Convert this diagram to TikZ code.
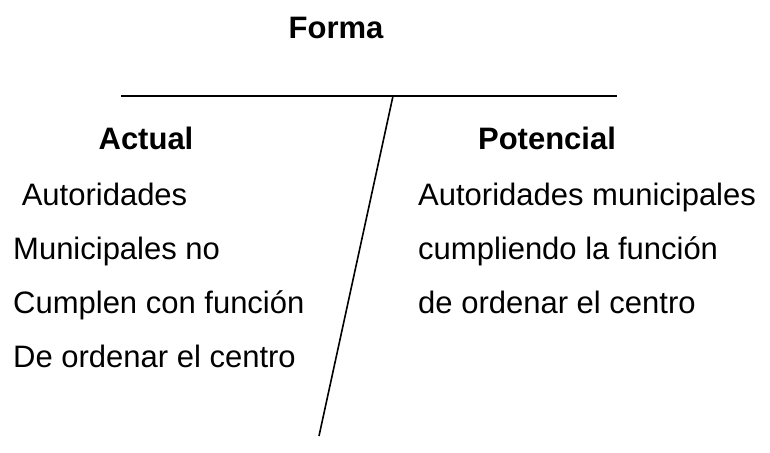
\documentclass[tikz,border=0pt]{standalone}
\usepackage{fontspec}
\setmainfont{Liberation Sans}
\begin{document}
\begin{tikzpicture}[x=1pt,y=-1pt,
  txt/.style={anchor=base west,inner sep=0pt,font=\fontsize{31}{37}\selectfont},
  head/.style={anchor=base,inner sep=0pt,font=\fontsize{31}{37}\selectfont\bfseries},
  rule/.style={line width=1.6pt}]
\useasboundingbox (0,0) rectangle (770,452);
\node[head] (forma) at (336,38) {Forma};
\coordinate (hl) at (121,96);
\coordinate (hr) at (617,96);
\coordinate (st) at (393,96);
\coordinate (sb) at (319,436);
\draw[rule] (hl) -- (hr);
\draw[rule] (st) -- (sb);
\node[head] (actual) at (146,149) {Actual};
\node[head] (pot) at (547,149) {Potencial};
\node[txt] (l1) at (13,205) {\ Autoridades};
\node[txt] (l2) at (13,259) {Municipales no};
\node[txt] (l3) at (13,313) {Cumplen con función};
\node[txt] (l4) at (13,367) {De ordenar el centro};
\node[txt] (r1) at (418,205) {Autoridades municipales};
\node[txt] (r2) at (418,259) {cumpliendo la función};
\node[txt] (r3) at (418,313) {de ordenar el centro};
\end{tikzpicture}
\end{document}
